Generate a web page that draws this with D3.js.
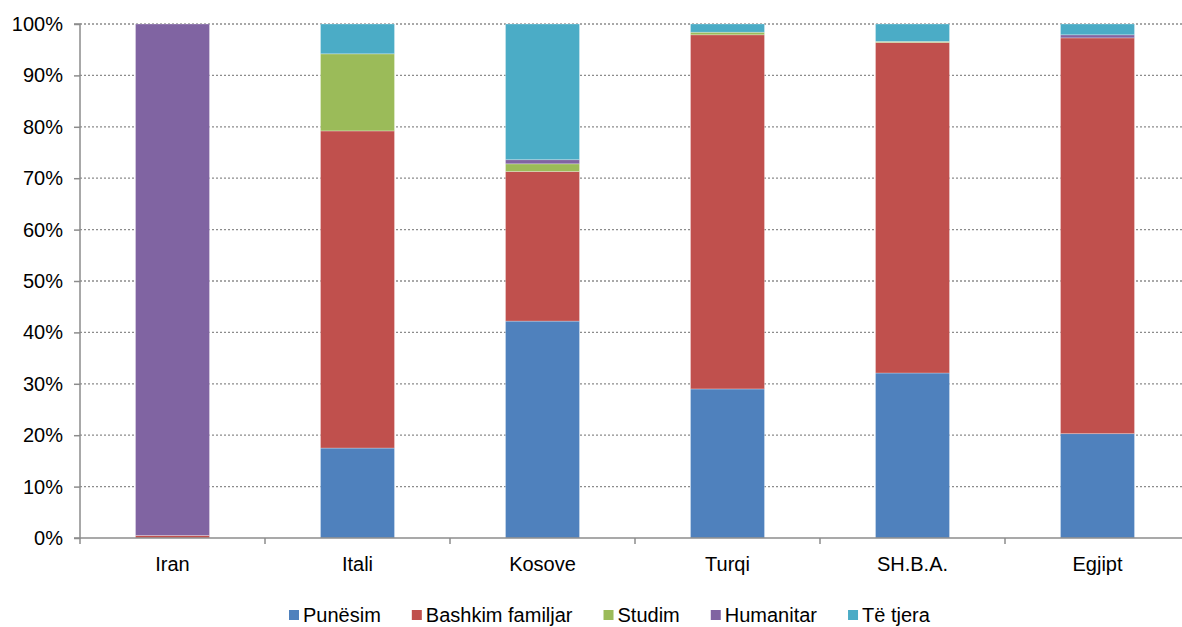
<!DOCTYPE html>
<html>
<head>
<meta charset="utf-8">
<script src="https://cdn.jsdelivr.net/npm/d3@7"></script>
<style>
  html, body { margin: 0; padding: 0; background: #fff; }
  svg { display: block; font-family: "Liberation Sans", Arial, sans-serif; }
</style>
</head>
<body>
<svg id="chart" width="1182" height="627"></svg>
<script>
// categories and series (percent of each country)
var countries = ["Iran", "Itali", "Kosove", "Turqi", "SH.B.A.", "Egjipt"];
var seriesNames = ["Punësim", "Bashkim familjar", "Studim", "Humanitar", "Të tjera"];
var punesim   = [0,    17.5, 42.2, 29.0, 32.1, 20.3];
var bashkim   = [0.5,  61.7, 29.1, 68.9, 64.3, 77.0];
var studim    = [0,    15.0, 1.5,  0.5,  0.2,  0];
var humanitar = [99.5, 0,    0.8,  0,    0,    0.6];
var teTjera   = [0,    5.8,  26.4, 1.6,  3.4,  2.1];
var yTicks = [0, 10, 20, 30, 40, 50, 60, 70, 80, 90, 100];

var colors = ["#4f81bd", "#c0504d", "#9bbb59", "#8064a2", "#4bacc6"];
var seriesValues = [punesim, bashkim, studim, humanitar, teTjera];

var rows = countries.map(function(c, i) {
  var r = { country: c };
  seriesNames.forEach(function(s, j) { r[s] = seriesValues[j][i]; });
  return r;
});

var svg = d3.select("#chart"),
    plotLeft = 80, plotRight = 1190, plotTop = 24, plotBottom = 538;

var x = d3.scaleBand().domain(countries).range([plotLeft, plotRight])
          .paddingInner(0.6).paddingOuter(0.3);
var y = d3.scaleLinear().domain([0, 100]).range([plotBottom, plotTop]);

// dotted gridlines
svg.append("g")
   .selectAll("line")
   .data(yTicks.filter(function(d) { return d > 0; }))
   .enter().append("line")
   .attr("x1", plotLeft).attr("x2", plotRight)
   .attr("y1", function(d) { return y(d); })
   .attr("y2", function(d) { return y(d); })
   .attr("stroke", "#8c8c8c")
   .attr("stroke-width", 1.3)
   .attr("stroke-dasharray", "2,2");

var stack = d3.stack().keys(seriesNames);
var layers = stack(rows);

svg.append("g")
   .selectAll("g")
   .data(layers)
   .enter().append("g")
   .attr("fill", function(d, i) { return colors[i]; })
   .selectAll("rect")
   .data(function(d) { return d; })
   .enter().append("rect")
   .attr("x", function(d) { return x(d.data.country); })
   .attr("width", x.bandwidth())
   .attr("y", function(d) { return y(d[1]); })
   .attr("height", function(d) { return y(d[0]) - y(d[1]); })
   .attr("stroke", "rgba(255,255,255,0.35)")
   .attr("stroke-width", function(d) { return (d[1] - d[0]) > 0 ? 0.8 : 0; });

// y axis
var yAxis = svg.append("g")
   .attr("transform", "translate(" + plotLeft + ",0)")
   .call(d3.axisLeft(y).tickValues(yTicks).tickSize(6).tickPadding(11)
           .tickFormat(function(d) { return d + "%"; }));

// x axis, ticks on category boundaries
var xAxis = svg.append("g")
   .attr("transform", "translate(0," + plotBottom + ")")
   .call(d3.axisBottom(x).tickSize(0).tickPadding(19));

var step = x.step();
xAxis.selectAll(".boundary")
   .data(d3.range(countries.length + 1))
   .enter().append("line")
   .attr("class", "boundary")
   .attr("x1", function(i) { return plotLeft + i * step; })
   .attr("x2", function(i) { return plotLeft + i * step; })
   .attr("y1", 0).attr("y2", 6)
   .attr("stroke", "#8c8c8c")
   .attr("stroke-width", 1.5);

[yAxis, xAxis].forEach(function(a) {
  a.select(".domain").attr("stroke", "#8c8c8c").attr("stroke-width", 1.5);
  a.selectAll(".tick line").attr("stroke", "#8c8c8c").attr("stroke-width", 1.5);
  a.selectAll("text").attr("font-size", "20px").attr("fill", "#000")
   .attr("font-family", "Liberation Sans, Arial, sans-serif");
});
xAxis.select(".domain").attr("d", "M" + plotLeft + ",0H" + plotRight);
yAxis.select(".domain").attr("d", "M-6," + plotBottom + "H0V" + plotTop + "H-6");

// legend
var legend = svg.append("g").attr("transform", "translate(289,615)");
var lx = 0;
seriesNames.forEach(function(s, i) {
  var item = legend.append("g").attr("transform", "translate(" + lx + ",0)");
  item.append("rect")
      .attr("x", 0).attr("y", -5).attr("width", 10).attr("height", 10)
      .attr("fill", colors[i]);
  var t = item.append("text")
      .attr("x", 14).attr("y", 7)
      .attr("font-size", "20px")
      .text(s);
  lx += 14 + t.node().getComputedTextLength() + 31;
});
</script>
</body>
</html>
